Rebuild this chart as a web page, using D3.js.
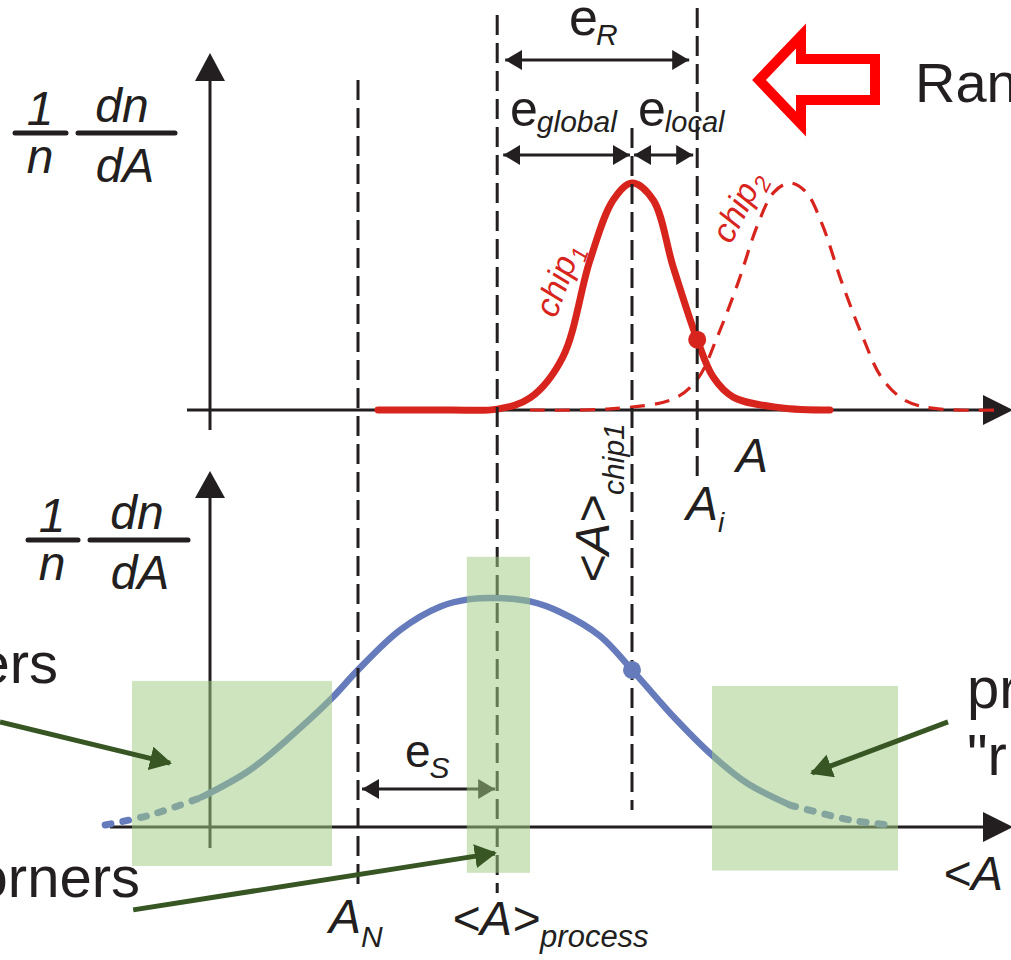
<!DOCTYPE html>
<html>
<head>
<meta charset="utf-8">
<script src="https://cdn.jsdelivr.net/npm/d3@7"></script>
<style>
  body { margin: 0; background: #fff; }
  svg { display: block; font-family: "Liberation Sans", Arial, sans-serif; }
</style>
</head>
<body>
<div id="chart"></div>
<script>
// Curve samples: [A, relative density]
const chip1Pts = [[21, 0], [30, 0], [35.9, 0.004], [40, 0.053], [44.1, 0.233], [47.5, 0.66], [50.4, 0.925],
  [52.75, 1], [55.4, 0.925], [57.9, 0.63], [60.9, 0.31], [62.9, 0.145], [65.4, 0.057], [71.25, 0.01], [77.5, 0]];
const chip2Pts = [[40, 0], [50, 0.005], [58, 0.05], [61, 0.14], [63.5, 0.33], [66, 0.56], [68.5, 0.82],
  [70.5, 0.96], [72.5, 1], [74.5, 0.96], [76.5, 0.82], [79, 0.56], [81.5, 0.33], [84, 0.14], [87, 0.04], [91, 0.005], [98.5, 0]];
const processPts = [[-13.1, 0.009], [-7.5, 0.052], [-1.25, 0.127], [5, 0.249], [11.25, 0.432], [15.25, 0.563],
  [18.5, 0.686], [23.75, 0.86], [28.75, 0.962], [32.5, 0.995], [35.9, 1.0], [40, 0.985], [43.75, 0.939],
  [48.75, 0.834], [52.75, 0.686], [57.5, 0.498], [62.75, 0.314], [67.1, 0.192], [72.5, 0.096], [80, 0.031], [85, 0.009]];

// Reference positions on the A axis
const markerNames = ["A_N", "process", "chip1", "A_i"];
const markerA = [18.5, 35.9, 52.75, 60.9];

// Error spans
const spanNames = ["R", "global", "local", "S"];
const spanFrom = [35.9, 35.9, 52.75, 18.5];
const spanTo = [60.9, 52.75, 60.9, 35.9];

// Highlighted corner regions (bottom panel): [A0, A1, v0, v1]
const regions = [[-9.75, 15.25, -0.17, 0.638], [32.1, 40, -0.2, 1.18], [62.75, 86, -0.19, 0.616]];

// Green pointer arrows (bottom panel): [A0, v0, A1, v1]
const pointers = [[-26.25, 0.459, -5, 0.279], [-9.6, -0.362, 35.6, -0.114], [92.25, 0.459, 75.25, 0.236]];

const width = 1011, height = 960;
const ink = "#231f20", red = "#d7251e", blue = "#667bbb", dkgreen = "#375623";

const x = d3.scaleLinear().domain([-14, 100]).range([98, 1010]);
const yTop = d3.scaleLinear().domain([0, 1]).range([410, 183]);
const yBot = d3.scaleLinear().domain([0, 1]).range([827, 598]);

const svg = d3.select("#chart").append("svg")
  .attr("width", width).attr("height", height)
  .attr("viewBox", `0 0 ${width} ${height}`);

const defs = svg.append("defs");
defs.append("marker")
    .attr("id", "head")
    .attr("viewBox", "0 0 17 20")
    .attr("refX", 17).attr("refY", 10)
    .attr("markerWidth", 17).attr("markerHeight", 20)
    .attr("markerUnits", "userSpaceOnUse")
    .attr("orient", "auto-start-reverse")
  .append("path")
    .attr("d", "M0,0L17,10L0,20Z")
    .attr("fill", ink);
defs.append("marker")
    .attr("id", "ghead")
    .attr("viewBox", "0 0 22 24")
    .attr("refX", 20).attr("refY", 12)
    .attr("markerWidth", 22).attr("markerHeight", 24)
    .attr("markerUnits", "userSpaceOnUse")
    .attr("orient", "auto")
  .append("path")
    .attr("d", "M0,0L22,12L0,24Z")
    .attr("fill", dkgreen);

// helper for text with subscripts
const label = (x0, y0, parts, opts = {}) => {
  const t = svg.append("text")
    .attr("x", x0).attr("y", y0)
    .attr("fill", opts.fill || ink)
    .attr("text-anchor", opts.anchor || "start");
  if (opts.transform) t.attr("transform", opts.transform).attr("x", 0).attr("y", 0);
  parts.forEach(p => {
    t.append("tspan")
      .attr("font-size", p.size)
      .attr("font-style", p.italic ? "italic" : "normal")
      .attr("dx", p.dx || 0)
      .attr("dy", p.dy || 0)
      .text(p.text);
  });
  return t;
};

// ---- axes ----
const axisLine = (x1, y1, x2, y2) => svg.append("line")
  .attr("x1", x1).attr("y1", y1).attr("x2", x2).attr("y2", y2)
  .attr("stroke", ink).attr("stroke-width", 3);
const tri = pts => svg.append("path").attr("d", "M" + pts.join("L") + "Z").attr("fill", ink);

// top panel
axisLine(x(0), 78, x(0), 430);
tri([[x(0), 53], [x(0) - 15, 81], [x(0) + 15, 81]]);
axisLine(187, yTop(0), 990, yTop(0));
tri([[1013, yTop(0)], [983, yTop(0) - 15], [983, yTop(0) + 15]]);
// bottom panel
axisLine(x(0), 496, x(0), 848);
tri([[x(0), 471], [x(0) - 15, 498], [x(0) + 15, 498]]);
axisLine(110, yBot(0), 990, yBot(0));
tri([[1013, yBot(0)], [983, yBot(0) - 15], [983, yBot(0) + 15]]);

// ---- curves ----
const lineTop = d3.line().x(d => x(d[0])).y(d => yTop(d[1])).curve(d3.curveCatmullRom.alpha(0.5));
const lineBot = d3.line().x(d => x(d[0])).y(d => yBot(d[1])).curve(d3.curveCatmullRom.alpha(0.5));

svg.append("path").datum(chip2Pts)
  .attr("d", lineTop).attr("fill", "none")
  .attr("stroke", red).attr("stroke-width", 3.2).attr("stroke-dasharray", "15 10");
svg.append("path").datum(chip1Pts)
  .attr("d", lineTop).attr("fill", "none")
  .attr("stroke", red).attr("stroke-width", 7).attr("stroke-linecap", "round");

const solidPart = processPts.filter(d => d[0] >= -1.25 && d[0] <= 72.5);
const leftTail = processPts.filter(d => d[0] <= -1.25);
const rightTail = processPts.filter(d => d[0] >= 72.5);
svg.append("path").datum(solidPart)
  .attr("d", lineBot).attr("fill", "none")
  .attr("stroke", blue).attr("stroke-width", 6.5);
[leftTail, rightTail].forEach(tail => {
  svg.append("path").datum(tail)
    .attr("d", lineBot).attr("fill", "none")
    .attr("stroke", blue).attr("stroke-width", 7)
    .attr("stroke-linecap", "round").attr("stroke-dasharray", "6 12");
});

// ---- vertical reference lines ----
const vExtent = { A_N: [80, 885], process: [15, 893], chip1: [128, 810], A_i: [8, 482] };
markerNames.forEach((name, i) => {
  svg.append("line")
    .attr("x1", x(markerA[i])).attr("x2", x(markerA[i]))
    .attr("y1", vExtent[name][0]).attr("y2", vExtent[name][1])
    .attr("stroke", ink).attr("stroke-width", 3)
    .attr("stroke-dasharray", "20 8");
});

// dots on curves
const chip1AtAi = chip1Pts.find(d => d[0] === markerA[3])[1];
svg.append("circle").attr("cx", x(markerA[3])).attr("cy", yTop(chip1AtAi)).attr("r", 9).attr("fill", red);
const procAtChip = processPts.find(d => d[0] === markerA[2])[1];
svg.append("circle").attr("cx", x(markerA[2])).attr("cy", yBot(procAtChip)).attr("r", 9).attr("fill", blue);

// ---- error spans ----
const spanY = { R: 60, global: 155, local: 155, S: 789 };
const spanInset = { R: [8, 8], global: [6, 2], local: [2, 4], S: [4, 2] };
spanNames.forEach((name, i) => {
  svg.append("line")
    .attr("x1", x(spanFrom[i]) + spanInset[name][0])
    .attr("x2", x(spanTo[i]) - spanInset[name][1])
    .attr("y1", spanY[name]).attr("y2", spanY[name])
    .attr("stroke", ink).attr("stroke-width", 3)
    .attr("marker-start", "url(#head)").attr("marker-end", "url(#head)");
});
label(569, 35, [{ text: "e", size: 52 }, { text: "R", size: 30, italic: true, dx: -2, dy: 10 }]);
label(510, 126, [{ text: "e", size: 50 }, { text: "global", size: 30, italic: true, dx: -1, dy: 6 }]);
label(638, 126, [{ text: "e", size: 50 }, { text: "local", size: 29, italic: true, dx: -1, dy: 6 }]);
label(405, 767, [{ text: "e", size: 46 }, { text: "S", size: 30, italic: true, dx: -1, dy: 11 }]);

// ---- green regions (drawn over curve) ----
svg.selectAll(".region")
  .data(regions)
  .join("rect")
    .attr("class", "region")
    .attr("x", d => x(d[0]))
    .attr("y", d => yBot(d[3]))
    .attr("width", d => x(d[1]) - x(d[0]))
    .attr("height", d => yBot(d[2]) - yBot(d[3]))
    .attr("fill", "rgb(159,203,130)")
    .attr("fill-opacity", 0.52);

svg.selectAll(".pointer")
  .data(pointers)
  .join("line")
    .attr("class", "pointer")
    .attr("x1", d => x(d[0])).attr("y1", d => yBot(d[1]))
    .attr("x2", d => x(d[2])).attr("y2", d => yBot(d[3]))
    .attr("stroke", dkgreen).attr("stroke-width", 5)
    .attr("marker-end", "url(#ghead)");

// ---- red hollow arrow ----
svg.append("path")
  .attr("d", "M759,80L801,36L801,59L875,59L875,100L801,100L801,124Z")
  .attr("fill", "#fff").attr("stroke", "#ff0000").attr("stroke-width", 10)
  .attr("stroke-miterlimit", 10);

// ---- y-axis labels (1/n dn/dA) ----
const fraction = (cx1, cx2, barY, bar1, bar2) => {
  svg.append("line").attr("x1", bar1[0]).attr("x2", bar1[1]).attr("y1", barY).attr("y2", barY)
    .attr("stroke", ink).attr("stroke-width", 5).attr("stroke-linecap", "round");
  svg.append("line").attr("x1", bar2[0]).attr("x2", bar2[1]).attr("y1", barY).attr("y2", barY)
    .attr("stroke", ink).attr("stroke-width", 5).attr("stroke-linecap", "round");
  label(cx1, barY - 8, [{ text: "1", size: 48, italic: true }], { anchor: "middle" });
  label(cx1, barY + 40, [{ text: "n", size: 48, italic: true }], { anchor: "middle" });
  label(cx2, barY - 11, [{ text: "dn", size: 48, italic: true }], { anchor: "middle" });
  label(cx2 + 3, barY + 49, [{ text: "dA", size: 48, italic: true }], { anchor: "middle" });
};
fraction(40, 122, 133, [15, 66], [78, 175]);
fraction(52, 137, 540, [28, 78], [90, 188]);

// ---- other labels ----
label(0, 0, [{ text: "chip", size: 34, italic: true }, { text: "1", size: 23, italic: true, dy: 8 }],
  { fill: red, transform: "translate(556,319) rotate(-70)" });
label(0, 0, [{ text: "chip", size: 34, italic: true }, { text: "2", size: 23, italic: true, dy: 8 }],
  { fill: red, transform: "translate(731,245) rotate(-63)" });
label(0, 0, [{ text: "<A>", size: 48, italic: true }, { text: "chip1", size: 30, italic: true, dy: 15 }],
  { transform: "translate(609,583) rotate(-90)" });
label(736, 472, [{ text: "A", size: 48, italic: true }]);
label(686, 520, [{ text: "A", size: 48, italic: true }, { text: "i", size: 28, italic: true, dy: 12 }]);
label(329, 933, [{ text: "A", size: 48, italic: true }, { text: "N", size: 30, italic: true, dy: 14 }]);
label(452, 935, [{ text: "<A>", size: 48, italic: true }, { text: "process", size: 31, italic: true, dy: 12 }]);
label(943, 890, [{ text: "<A", size: 48, italic: true }]);

label(915, 102, [{ text: "Ran", size: 56 }]);
label(58, 683, [{ text: "ers", size: 58 }], { anchor: "end" });
label(140, 897, [{ text: "orners", size: 58 }], { anchor: "end" });
label(967, 708, [{ text: "pr", size: 58 }]);
label(967, 775, [{ text: "\"r", size: 58 }]);
</script>
</body>
</html>
